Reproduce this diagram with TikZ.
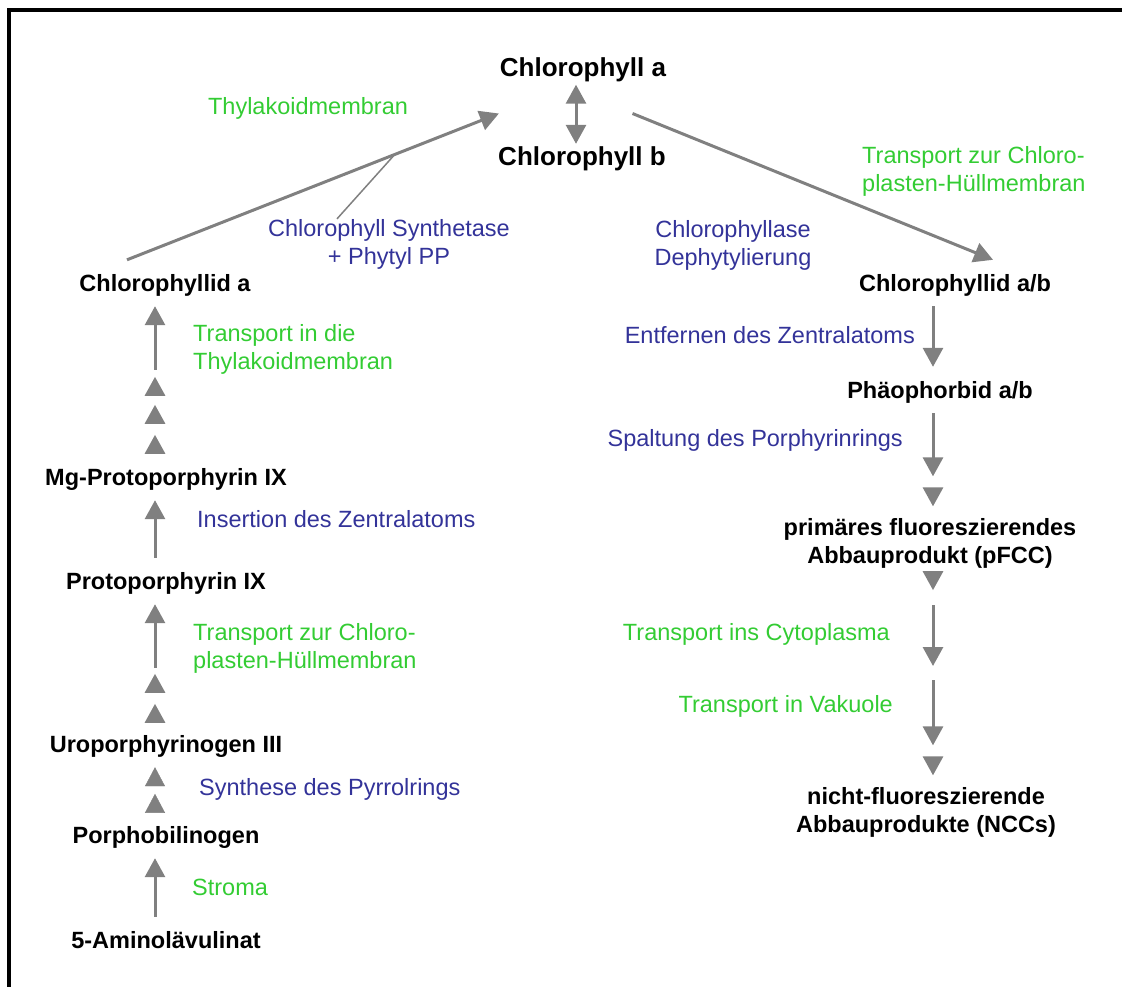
\documentclass[tikz,border=0pt]{standalone}
\usepackage{fontspec}
\setmainfont{Liberation Sans}
\usepackage{xcolor}
\usetikzlibrary{arrows.meta}
\usetikzlibrary{calc}
\usetikzlibrary{decorations.markings}

\definecolor{arrowgray}{RGB}{128,128,128}
\definecolor{locgreen}{RGB}{51,204,51}
\definecolor{enzblue}{RGB}{51,51,153}

\tikzset{
  Tri/.tip={Triangle[length=19pt,width=20pt]},
  stepat/.style={postaction={decorate,decoration={markings,mark=at position #1 with {\arrow[arrowgray]{Tri}}}}}
}

\begin{document}
\begin{tikzpicture}[x=1pt,y=-1pt,
  every node/.style={font=\fontsize{23.5}{28}\selectfont},
  stage/.style={font=\fontsize{23.5}{28}\selectfont\bfseries,text height=17pt,text depth=0pt,inner xsep=0pt,inner ysep=14.5pt,anchor=base},
  pigment/.style={font=\fontsize{26}{30}\selectfont\bfseries,text height=19pt,text depth=0pt,inner xsep=0pt,inner ysep=8pt,anchor=base},
  product/.style={font=\fontsize{23.5}{28}\selectfont\bfseries,align=center,inner xsep=0pt,inner ysep=12pt},
  locus/.style={text=locgreen,inner sep=0pt},
  enzyme/.style={text=enzblue,inner sep=0pt},
  flow/.style={draw=arrowgray,line width=3pt,-Tri},
  link/.style={draw=arrowgray,line width=1.5pt}]
\useasboundingbox (0,0) rectangle (1122,986);
\clip (0,0) rectangle (1122,986);
\draw[line width=4pt] (9,10) rectangle (1140,1010);

\node[pigment] (cha) at (583,76.5) {Chlorophyll a};
\node[pigment] (chb) at (582,165.5) {Chlorophyll b};
\node[stage] (chlida) at (165,291.5) {Chlorophyllid a};
\node[stage] (mgp) at (166,485.5) {Mg-Protoporphyrin IX};
\node[stage] (pp) at (166,589.5) {Protoporphyrin IX};
\node[stage] (uro) at (166,752.5) {Uroporphyrinogen III};
\node[stage] (pbg) at (166,843.5) {Porphobilinogen};
\node[stage] (ala) at (166,948.5) {5-Aminolävulinat};
\node[stage] (chlidab) at (955,291.5) {Chlorophyllid a/b};
\node[stage] (phaeo) at (940,398.5) {Phäophorbid a/b};
\node[product] (pfcc) at (930,543.5) {primäres fluoreszierendes\\Abbauprodukt (pFCC)};
\node[product] (ncc) at (926,812.5) {nicht-fluoreszierende\\Abbauprodukte (NCCs)};

\node[locus] (thyl) at (308,108) {Thylakoidmembran};
\node[enzyme,align=center] (synth) at (389,244) {Chlorophyll Synthetase\\+ Phytyl PP};
\node[locus,align=left,anchor=west] (envR) at (862,171) {Transport zur Chloro-\\plasten-Hüllmembran};
\node[enzyme,align=center] (chlase) at (733,245) {Chlorophyllase\\Dephytylierung};
\node[locus,align=left,anchor=west] (thylL) at (193,349) {Transport in die\\Thylakoidmembran};
\node[enzyme,anchor=west] (ins) at (197,519) {Insertion des Zentralatoms};
\node[locus,align=left,anchor=west] (envL) at (193,648.5) {Transport zur Chloro-\\plasten-Hüllmembran};
\node[enzyme,anchor=west] (pyr) at (199,789) {Synthese des Pyrrolrings};
\node[locus,anchor=west] (stroma) at (192,887) {Stroma};
\node[enzyme,anchor=east] (entf) at (915,335) {Entfernen des Zentralatoms};
\node[enzyme,anchor=east] (spalt) at (903,440) {Spaltung des Porphyrinrings};
\node[locus,anchor=east] (cyto) at (890,634) {Transport ins Cytoplasma};
\node[locus,anchor=east] (vak) at (893,706) {Transport in Vakuole};

\coordinate (L) at (155,0);
\coordinate (R) at (933,0);
\coordinate (mid) at (933,666);

% Biosynthese
\draw[flow] (L |- ala.north) -- (L |- pbg.south);
\path[stepat=18pt,stepat=1] (L |- pbg.north) -- (L |- uro.south);
\draw[flow,shorten <=53pt,stepat=17pt,stepat=47pt] (L |- uro.north) -- (L |- pp.south);
\draw[flow] (L |- pp.north) -- (L |- mgp.south);
\draw[flow,shorten <=84pt,stepat=19pt,stepat=49pt,stepat=77pt] (L |- mgp.north) -- (L |- chlida.south);
\draw[flow] ([xshift=-38pt]chlida.north) -- coordinate[pos=0.72] (hook) ($(cha.south west)!0.5!(chb.north west)+(0,2)$);
\draw[link] ([xshift=-52pt]synth.north) -- (hook);
\draw[flow,Tri-Tri,shorten >=-5.5pt] ([xshift=-7pt]cha.south) -- ([xshift=-6pt]chb.north);

% Abbau
\draw[flow] ($(cha.south)!0.5!(chb.north)+(50,2)$) -- ([xshift=38pt]chlidab.north);
\draw[flow] (R |- chlidab.south) -- (R |- phaeo.north);
\draw[flow,shorten >=30pt,stepat=1] (R |- phaeo.south) -- (R |- pfcc.north);
\draw[flow,shorten <=24.5pt,stepat=9.5pt] (R |- pfcc.south) -- (mid);
\draw[flow,shorten <=14pt,shorten >=30pt,stepat=1] (mid) -- (R |- ncc.north);
\end{tikzpicture}
\end{document}
